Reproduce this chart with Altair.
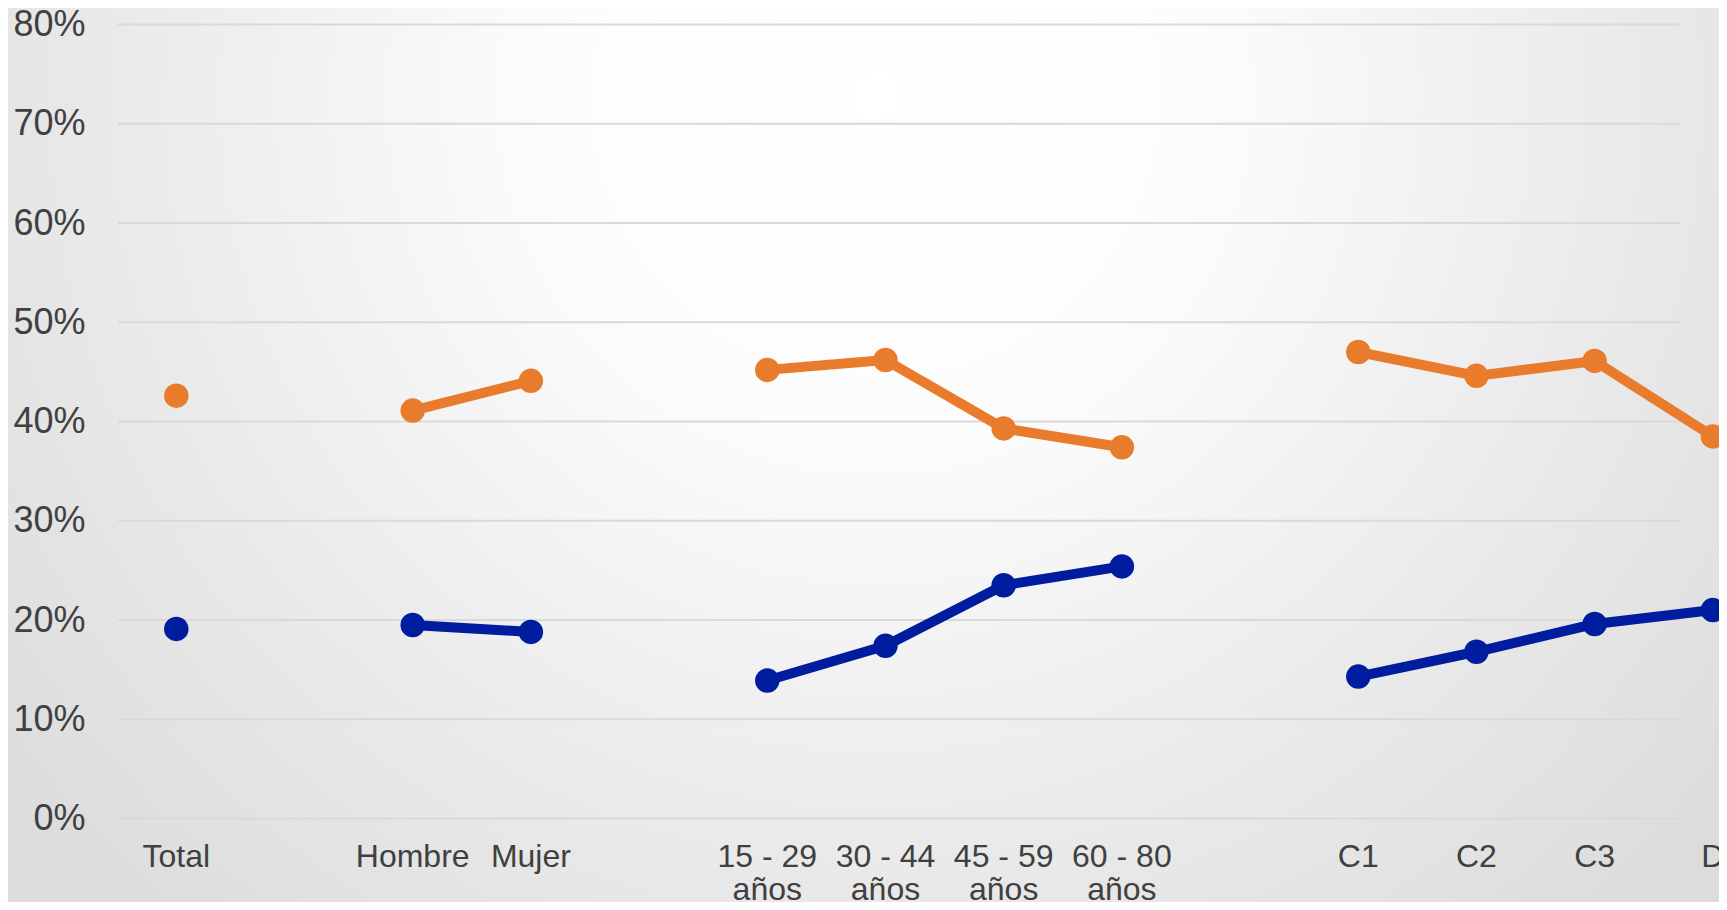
import altair as alt
import pandas as pd

# ---- data ----
categories = ["Total", "Hombre", "Mujer",
              "15 - 29\naños", "30 - 44\naños", "45 - 59\naños", "60 - 80\naños",
              "C1", "C2", "C3", "D"]
slot = [0, 2, 3, 5, 6, 7, 8, 10, 11, 12, 13]
group = ["Total", "Sexo", "Sexo", "Edad", "Edad", "Edad", "Edad", "NSE", "NSE", "NSE", "NSE"]
serie_naranja = [42.6, 41.1, 44.1, 45.2, 46.2, 39.3, 37.4, 47.0, 44.6, 46.1, 38.5]
serie_azul = [19.1, 19.5, 18.8, 13.9, 17.4, 23.5, 25.4, 14.3, 16.8, 19.6, 21.0]
y_ticks = [0, 10, 20, 30, 40, 50, 60, 70, 80]

series_names = ["Serie 1", "Serie 2"]
series_colors = ["#E97C2C", "#001C9F"]

rows = []
for name, vals in zip(series_names, [serie_naranja, serie_azul]):
    for c, s, g, v in zip(categories, slot, group, vals):
        rows.append({"cat": c, "slot": s, "grupo": g, "serie": name, "valor": v})
df = pd.DataFrame(rows)
lab_df = pd.DataFrame({"cat": categories, "slot": slot})
grid_df = pd.DataFrame({"v": y_ticks})

W, H = 1562, 794
PAD_L, PAD_T, PAD_R, PAD_B = 110, 16.5, 39, 83.5
FONT = "Liberation Sans, Arial, Helvetica, sans-serif"

xscale = alt.Scale(domain=[-0.4932, 12.722], nice=False, zero=False)
yscale = alt.Scale(domain=[0, 80], nice=False)
color = alt.Color("serie:N", scale=alt.Scale(domain=series_names, range=series_colors), legend=None)

gradient = alt.RadialGradient(
    gradient="radial",
    stops=[
        alt.GradientStop(offset=0, color="#ffffff"),
        alt.GradientStop(offset=0.3, color="#fcfcfc"),
        alt.GradientStop(offset=0.7, color="#e9e9e9"),
        alt.GradientStop(offset=1, color="#dcdcdc"),
    ],
    x1=0.507, y1=0.29, r1=0,
    x2=0.507, y2=0.29, r2=0.65,
)

bg = alt.Chart(pd.DataFrame({"a": [0]})).mark_rect(fill=gradient, strokeWidth=0).encode(
    x=alt.value(-PAD_L), x2=alt.value(W + PAD_R), y=alt.value(-PAD_T), y2=alt.value(H + PAD_B)
)

grid = alt.Chart(grid_df).mark_rule(color="#d9d9d9", strokeWidth=2).encode(
    y=alt.Y("v:Q", scale=yscale,
            axis=alt.Axis(values=y_ticks, labelExpr="datum.value + '%'", grid=False, ticks=False,
                          domain=False, labelFontSize=36, labelColor="#404040", labelFont=FONT,
                          labelPadding=33, zindex=1, title=None)),
    x=alt.value(0), x2=alt.value(W),
)

lines = alt.Chart(df).mark_line(strokeWidth=10, strokeJoin="round").encode(
    x=alt.X("slot:Q", scale=xscale, axis=None),
    y=alt.Y("valor:Q", scale=yscale),
    color=color,
    detail="grupo:N",
)

points = alt.Chart(df).mark_circle(size=600, opacity=1).encode(
    x=alt.X("slot:Q", scale=xscale, axis=None),
    y=alt.Y("valor:Q", scale=yscale),
    color=color,
)

labels = alt.Chart(lab_df).mark_text(
    fontSize=32, font=FONT, color="#404040", align="center", baseline="alphabetic",
    lineBreak="\n", lineHeight=33,
).encode(
    x=alt.X("slot:Q", scale=xscale, axis=None),
    y=alt.value(H + 48.5),
    text="cat:N",
)

chart = alt.layer(bg, grid, lines, points, labels).properties(
    width=W, height=H,
    autosize=alt.AutoSizeParams(type="none"),
    padding={"left": PAD_L, "top": PAD_T, "right": PAD_R, "bottom": PAD_B},
).configure_view(stroke=None).configure(background="#dcdcdc")

chart.save("out.html", embed_options={"renderer": "svg", "actions": False})
